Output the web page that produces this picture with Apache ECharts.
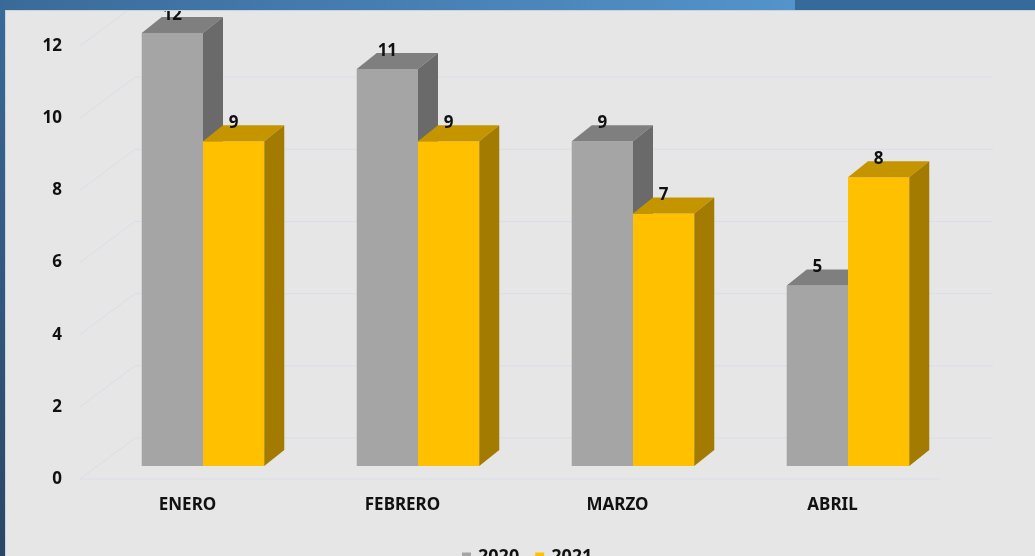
<!DOCTYPE html>
<html>
<head>
<meta charset="utf-8">
<style>
  html, body { margin: 0; padding: 0; background: #e6e6e6; }
  #main { width: 1035px; height: 556px; }
</style>
<script src="https://cdn.jsdelivr.net/npm/echarts@6/dist/echarts.min.js"></script>
</head>
<body>
<div id="main"></div>
<script>
var categories = ['ENERO', 'FEBRERO', 'MARZO', 'ABRIL'];
var values2020 = [12, 11, 9, 5];
var values2021 = [9, 9, 7, 8];
var yTicks = [0, 2, 4, 6, 8, 10, 12];

var FONT = '"Noto Sans", "Open Sans", sans-serif';
// perspective offsets
var FRONT_DX = 15.5, FRONT_DY = 13;   // bars sit a bit behind the front floor edge
var DEPTH_DX = 20, DEPTH_DY = 16;     // bar depth
var WALL_DX = 55, WALL_DY = 41;       // back wall

var faces = [
    { front: '#a5a5a5', top: '#7f7f7f', side: '#6a6a6a' },
    { front: '#ffc000', top: '#c59500', side: '#a27b00' }
];

function barRenderer(sIdx) {
    return function (params, api) {
        var cat = api.value(0);
        var base = api.coord([cat, 0]);
        var top = api.coord([cat, api.value(1)]);
        var w = api.size([1, 0])[0] * 0.285;
        var x0 = base[0] + FRONT_DX + (sIdx === 0 ? -w : 0);
        var x1 = x0 + w;
        var yb = base[1] - FRONT_DY;
        var yt = top[1] - FRONT_DY;
        var f = faces[sIdx];
        return {
            type: 'group',
            children: [
                { type: 'polygon', shape: { points: [[x0, yb], [x0, yt], [x1, yt], [x1, yb]] },
                  style: { fill: f.front } },
                { type: 'polygon', shape: { points: [[x0, yt], [x1, yt], [x1 + DEPTH_DX, yt - DEPTH_DY], [x0 + DEPTH_DX, yt - DEPTH_DY]] },
                  style: { fill: f.top } },
                { type: 'polygon', shape: { points: [[x1, yt], [x1 + DEPTH_DX, yt - DEPTH_DY], [x1 + DEPTH_DX, yb - DEPTH_DY], [x1, yb]] },
                  style: { fill: f.side } },
                { type: 'text', x: (x0 + x1) / 2, y: yt - 18,
                  style: { text: String(api.value(1)), fill: '#111', font: 'bold 17px ' + FONT,
                           align: 'center', verticalAlign: 'middle' } }
            ]
        };
    };
}

function wallRenderer(params, api) {
    var cs = params.coordSys;
    var y = api.coord([0, api.value(1)])[1];
    var children = [{
        type: 'polyline',
        shape: { points: [[cs.x, y], [cs.x + WALL_DX, y - WALL_DY], [cs.x + cs.width + 53, y - WALL_DY]] },
        style: { stroke: '#dadee8', lineWidth: 1, fill: null }
    }];
    if (api.value(1) === 0) {
        children.push({
            type: 'line',
            shape: { x1: cs.x, y1: y, x2: cs.x + cs.width, y2: y },
            style: { stroke: '#dadee8', lineWidth: 1 }
        });
    }
    return { type: 'group', children: children };
}

var myChart = echarts.init(document.getElementById('main'));
var option = {
    backgroundColor: '#e6e6e6',
    animation: false,
    grid: { left: 80, right: 95, top: 46, bottom: 77 },
    legend: {
        data: ['2020', '2021'],
        left: 457, top: 543,
        icon: 'rect', itemWidth: 9, itemHeight: 9, itemGap: 16,
        textStyle: { fontFamily: FONT, fontWeight: 'bold', fontSize: 18, color: '#111', padding: [0, 0, 0, 2] }
    },
    xAxis: {
        type: 'category',
        data: categories,
        axisLine: { show: false },
        axisTick: { show: false },
        axisLabel: { margin: 18, fontFamily: FONT, fontWeight: 'bold', fontSize: 17, color: '#111' }
    },
    yAxis: {
        type: 'value',
        min: 0, max: 12, interval: 2,
        axisLine: { show: false },
        axisTick: { show: false },
        splitLine: { show: false },
        axisLabel: { margin: 18, fontFamily: FONT, fontWeight: 'bold', fontSize: 17, color: '#111' }
    },
    series: [
        {
            type: 'custom', name: 'wall', silent: true, clip: false, z: 1,
            renderItem: wallRenderer,
            data: yTicks.map(function (v) { return [0, v]; })
        },
        {
            type: 'custom', name: '2020', clip: false, z: 2,
            itemStyle: { color: faces[0].front },
            renderItem: barRenderer(0),
            data: values2020.map(function (v, i) { return [i, v]; })
        },
        {
            type: 'custom', name: '2021', clip: false, z: 3,
            itemStyle: { color: faces[1].front },
            renderItem: barRenderer(1),
            data: values2021.map(function (v, i) { return [i, v]; })
        }
    ],
    graphic: [
        { type: 'rect', z: 100, shape: { x: 0, y: 0, width: 795, height: 10 },
          style: { fill: new echarts.graphic.LinearGradient(0, 0, 1, 0, [
              { offset: 0, color: '#3a6a99' }, { offset: 1, color: '#5493cb' }]) } },
        { type: 'rect', z: 100, shape: { x: 795, y: 0, width: 240, height: 10 },
          style: { fill: '#356a9b' } },
        { type: 'rect', z: 100, shape: { x: 0, y: 10, width: 1035, height: 1 },
          style: { fill: '#c9d3de' } },
        { type: 'rect', z: 100, shape: { x: 0, y: 0, width: 5, height: 556 },
          style: { fill: new echarts.graphic.LinearGradient(0, 0, 0, 1, [
              { offset: 0, color: '#3a6a99' }, { offset: 1, color: '#2b4666' }]) } },
        { type: 'rect', z: 100, shape: { x: 5, y: 11, width: 1, height: 545 },
          style: { fill: '#c9d3de' } }
    ]
};
myChart.setOption(option);
</script>
</body>
</html>
